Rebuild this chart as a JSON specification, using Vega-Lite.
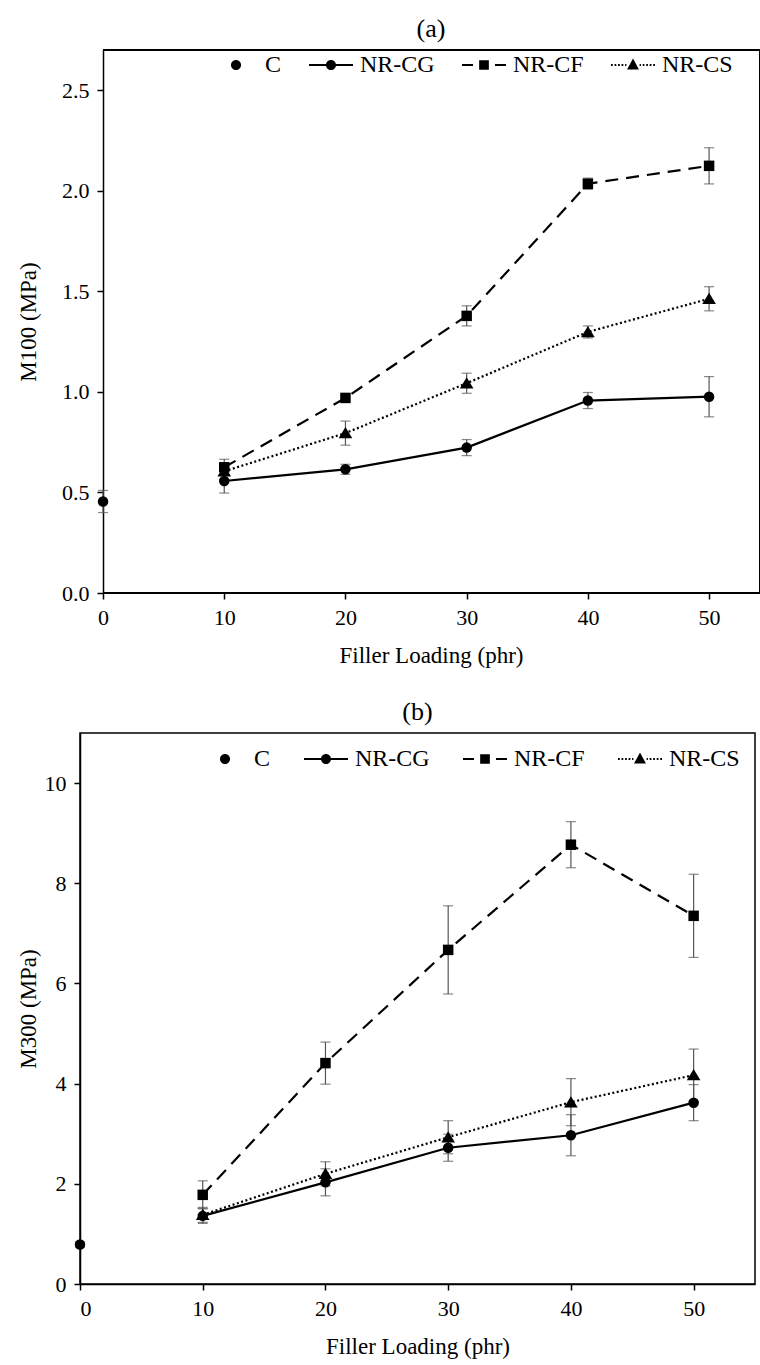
{
  "$schema": "https://vega.github.io/schema/vega-lite/v6.json",
  "padding": {"left": 16, "top": 16, "right": 0, "bottom": 0},
  "background": "white",
  "datasets": {
    "m100": [
      {"series": "C", "x": 0, "y": 0.455, "err": 0.055},
      {"series": "NR-CG", "x": 10, "y": 0.557, "err": 0.06},
      {"series": "NR-CG", "x": 20, "y": 0.615, "err": 0.025},
      {"series": "NR-CG", "x": 30, "y": 0.723, "err": 0.04},
      {"series": "NR-CG", "x": 40, "y": 0.957, "err": 0.04},
      {"series": "NR-CG", "x": 50, "y": 0.976, "err": 0.1},
      {"series": "NR-CF", "x": 10, "y": 0.625, "err": 0.04},
      {"series": "NR-CF", "x": 20, "y": 0.97, "err": 0.012},
      {"series": "NR-CF", "x": 30, "y": 1.378, "err": 0.05},
      {"series": "NR-CF", "x": 40, "y": 2.035, "err": 0.028},
      {"series": "NR-CF", "x": 50, "y": 2.124, "err": 0.09},
      {"series": "NR-CS", "x": 10, "y": 0.605, "err": 0.04},
      {"series": "NR-CS", "x": 20, "y": 0.795, "err": 0.06},
      {"series": "NR-CS", "x": 30, "y": 1.043, "err": 0.05},
      {"series": "NR-CS", "x": 40, "y": 1.298, "err": 0.03},
      {"series": "NR-CS", "x": 50, "y": 1.463, "err": 0.06}
    ],
    "m300": [
      {"series": "C", "x": 0, "y": 0.79, "err": 0.05},
      {"series": "NR-CG", "x": 10, "y": 1.36, "err": 0.15},
      {"series": "NR-CG", "x": 20, "y": 2.03, "err": 0.27},
      {"series": "NR-CG", "x": 30, "y": 2.72, "err": 0.27},
      {"series": "NR-CG", "x": 40, "y": 2.97, "err": 0.41},
      {"series": "NR-CG", "x": 50, "y": 3.62, "err": 0.36},
      {"series": "NR-CF", "x": 10, "y": 1.78, "err": 0.28},
      {"series": "NR-CF", "x": 20, "y": 4.41, "err": 0.42},
      {"series": "NR-CF", "x": 30, "y": 6.67, "err": 0.88},
      {"series": "NR-CF", "x": 40, "y": 8.77, "err": 0.46},
      {"series": "NR-CF", "x": 50, "y": 7.35, "err": 0.83},
      {"series": "NR-CS", "x": 10, "y": 1.38, "err": 0.15},
      {"series": "NR-CS", "x": 20, "y": 2.2, "err": 0.24},
      {"series": "NR-CS", "x": 30, "y": 2.93, "err": 0.33},
      {"series": "NR-CS", "x": 40, "y": 3.63, "err": 0.47},
      {"series": "NR-CS", "x": 50, "y": 4.17, "err": 0.52}
    ]
  },
  "vconcat": [
    {
      "title": {"text": "(a)", "dx": 11, "offset": 0},
      "width": 680,
      "height": 543,
      "view": {"stroke": null},
      "data": {"name": "m100"},
      "encoding": {
        "x": {"field": "x", "type": "quantitative", "scale": {"domain": [-1.9, 54.2], "nice": false, "zero": false},
              "axis": {"title": "Filler Loading (phr)", "values": [0, 10, 20, 30, 40, 50], "domain": false, "titleX": 351}},
        "y": {"field": "y", "type": "quantitative", "scale": {"domain": [0, 2.7], "nice": false},
              "axis": {"title": "M100 (MPa)", "values": [0, 0.5, 1, 1.5, 2, 2.5], "format": ".1f", "titlePadding": 21, "offset": -23}}
      },
      "layer": [
        {"mark": {"type": "rule", "color": "black", "strokeWidth": 1.5},
         "encoding": {"x": {"datum": 0, "type": "quantitative"}, "x2": {"datum": 54.2}, "y": {"datum": 0, "type": "quantitative"}}},
        {"mark": {"type": "rule", "color": "black", "strokeWidth": 1.5},
         "encoding": {"x": {"datum": 0, "type": "quantitative"}, "x2": {"datum": 54.2}, "y": {"datum": 2.7, "type": "quantitative"}}},
        {"mark": {"type": "rule", "color": "black", "strokeWidth": 1.5},
         "encoding": {"x": {"datum": 54.2, "type": "quantitative"}, "y": {"datum": 0, "type": "quantitative"}, "y2": {"datum": 2.7}}},
        {"mark": {"type": "errorbar", "color": "#555555", "thickness": 1.2, "ticks": true, "size": 10},
         "encoding": {"yError": {"field": "err"}}},
        {"transform": [{"filter": "datum.series === 'NR-CG'"}],
         "mark": {"type": "line", "color": "black", "strokeWidth": 2.2}, "encoding": {}},
        {"transform": [{"filter": "datum.series === 'NR-CF'"}],
         "mark": {"type": "line", "color": "black", "strokeWidth": 2.2, "strokeDash": [13, 8]}, "encoding": {}},
        {"transform": [{"filter": "datum.series === 'NR-CS'"}],
         "mark": {"type": "line", "color": "black", "strokeWidth": 2.2, "strokeDash": [2, 2.5]}, "encoding": {}},
        {"mark": {"type": "point", "filled": true, "color": "black", "opacity": 1, "size": 110},
         "encoding": {
           "shape": {"field": "series", "type": "nominal",
             "scale": {"domain": ["C", "NR-CG", "NR-CF", "NR-CS"], "range": ["circle", "circle", "square", "M0,-1.15L1.3,1L-1.3,1Z"]},
             "legend": null}
         }},
        {"transform": [{"filter": "false"}],
         "mark": {"type": "point", "filled": true, "color": "black", "opacity": 1, "size": 1936},
         "encoding": {
           "shape": {"field": "series", "type": "nominal",
             "scale": {"domain": ["C", "NR-CG", "NR-CF", "NR-CS"],
               "range": [
                 "M-0.23,0A0.23,0.23,0,1,1,0.23,0A0.23,0.23,0,1,1,-0.23,0Z",
                 "M-1,-0.045L1,-0.045L1,0.045L-1,0.045ZM-0.23,0A0.23,0.23,0,1,1,0.23,0A0.23,0.23,0,1,1,-0.23,0Z",
                 "M-1,-0.045L-0.5,-0.045L-0.5,0.045L-1,0.045ZM0.5,-0.045L1,-0.045L1,0.045L0.5,0.045ZM-0.22,-0.22L0.22,-0.22L0.22,0.22L-0.22,0.22Z",
                 "M-1,-0.045L-0.92,-0.045L-0.92,0.045L-1,0.045ZM-0.84,-0.045L-0.76,-0.045L-0.76,0.045L-0.84,0.045ZM-0.68,-0.045L-0.6,-0.045L-0.6,0.045L-0.68,0.045ZM-0.52,-0.045L-0.44,-0.045L-0.44,0.045L-0.52,0.045ZM-0.36,-0.045L-0.3,-0.045L-0.3,0.045L-0.36,0.045ZM0.3,-0.045L0.36,-0.045L0.36,0.045L0.3,0.045ZM0.44,-0.045L0.52,-0.045L0.52,0.045L0.44,0.045ZM0.6,-0.045L0.68,-0.045L0.68,0.045L0.6,0.045ZM0.76,-0.045L0.84,-0.045L0.84,0.045L0.76,0.045ZM0.92,-0.045L1,-0.045L1,0.045L0.92,0.045ZM0,-0.3L0.27,0.2L-0.27,0.2Z"
               ]},
             "legend": {
               "title": null, "orient": "none", "legendX": 133, "legendY": -8, "direction": "horizontal", "padding": 0,
               "symbolSize": 1936, "symbolFillColor": "black",
               "labelFontSize": 24, "labelOffset": 6, "columnPadding": 24
             }}
         }}
      ],
      "resolve": {"scale": {"shape": "independent"}}
    },
    {
      "title": {"text": "(b)"},
      "width": 675,
      "height": 551,
      "data": {"name": "m300"},
      "encoding": {
        "x": {"field": "x", "type": "quantitative", "scale": {"domain": [0, 55], "nice": false, "zero": false},
              "axis": {"title": "Filler Loading (phr)", "values": [0, 10, 20, 30, 40, 50]}},
        "y": {"field": "y", "type": "quantitative", "scale": {"domain": [0, 11], "nice": false},
              "axis": {"title": "M300 (MPa)", "values": [0, 2, 4, 6, 8, 10], "titlePadding": 4}}
      },
      "layer": [
        {"mark": {"type": "errorbar", "color": "#555555", "thickness": 1.2, "ticks": true, "size": 10},
         "encoding": {"yError": {"field": "err"}}},
        {"transform": [{"filter": "datum.series === 'NR-CG'"}],
         "mark": {"type": "line", "color": "black", "strokeWidth": 2.2}, "encoding": {}},
        {"transform": [{"filter": "datum.series === 'NR-CF'"}],
         "mark": {"type": "line", "color": "black", "strokeWidth": 2.2, "strokeDash": [13, 8]}, "encoding": {}},
        {"transform": [{"filter": "datum.series === 'NR-CS'"}],
         "mark": {"type": "line", "color": "black", "strokeWidth": 2.2, "strokeDash": [2, 2.5]}, "encoding": {}},
        {"mark": {"type": "point", "filled": true, "color": "black", "opacity": 1, "size": 110},
         "encoding": {
           "shape": {"field": "series", "type": "nominal",
             "scale": {"domain": ["C", "NR-CG", "NR-CF", "NR-CS"], "range": ["circle", "circle", "square", "M0,-1.15L1.3,1L-1.3,1Z"]},
             "legend": null}
         }},
        {"transform": [{"filter": "false"}],
         "mark": {"type": "point", "filled": true, "color": "black", "opacity": 1, "size": 1936},
         "encoding": {
           "shape": {"field": "series", "type": "nominal",
             "scale": {"domain": ["C", "NR-CG", "NR-CF", "NR-CS"],
               "range": [
                 "M-0.23,0A0.23,0.23,0,1,1,0.23,0A0.23,0.23,0,1,1,-0.23,0Z",
                 "M-1,-0.045L1,-0.045L1,0.045L-1,0.045ZM-0.23,0A0.23,0.23,0,1,1,0.23,0A0.23,0.23,0,1,1,-0.23,0Z",
                 "M-1,-0.045L-0.5,-0.045L-0.5,0.045L-1,0.045ZM0.5,-0.045L1,-0.045L1,0.045L0.5,0.045ZM-0.22,-0.22L0.22,-0.22L0.22,0.22L-0.22,0.22Z",
                 "M-1,-0.045L-0.92,-0.045L-0.92,0.045L-1,0.045ZM-0.84,-0.045L-0.76,-0.045L-0.76,0.045L-0.84,0.045ZM-0.68,-0.045L-0.6,-0.045L-0.6,0.045L-0.68,0.045ZM-0.52,-0.045L-0.44,-0.045L-0.44,0.045L-0.52,0.045ZM-0.36,-0.045L-0.3,-0.045L-0.3,0.045L-0.36,0.045ZM0.3,-0.045L0.36,-0.045L0.36,0.045L0.3,0.045ZM0.44,-0.045L0.52,-0.045L0.52,0.045L0.44,0.045ZM0.6,-0.045L0.68,-0.045L0.68,0.045L0.6,0.045ZM0.76,-0.045L0.84,-0.045L0.84,0.045L0.76,0.045ZM0.92,-0.045L1,-0.045L1,0.045L0.92,0.045ZM0,-0.3L0.27,0.2L-0.27,0.2Z"
               ]},
             "legend": {
               "title": null, "orient": "none", "legendX": 122, "legendY": 3, "direction": "horizontal", "padding": 0,
               "symbolSize": 1936, "symbolFillColor": "black",
               "labelFontSize": 24, "labelOffset": 6, "columnPadding": 30
             }}
         }}
      ],
      "resolve": {"scale": {"shape": "independent"}}
    }
  ],
  "spacing": 31,
  "resolve": {"scale": {"x": "independent", "y": "independent", "shape": "independent"}, "legend": {"shape": "independent"}},
  "config": {
    "font": "Liberation Serif",
    "view": {"stroke": "black", "strokeWidth": 1.5},
    "axis": {
      "domainColor": "black", "domainWidth": 1.5, "tickColor": "black", "tickWidth": 1.5, "tickSize": 6,
      "labelFont": "Liberation Serif", "labelFontSize": 22, "labelColor": "black", "labelPadding": 8,
      "titleFont": "Liberation Serif", "titleFontSize": 23, "titleFontWeight": "normal", "titleColor": "black",
      "grid": false
    },
    "axisX": {"titlePadding": 16},
    "title": {"font": "Liberation Serif", "fontSize": 26, "fontWeight": "normal", "color": "black", "offset": 8},
    "legend": {"labelFont": "Liberation Serif", "labelColor": "black"}
  }
}
